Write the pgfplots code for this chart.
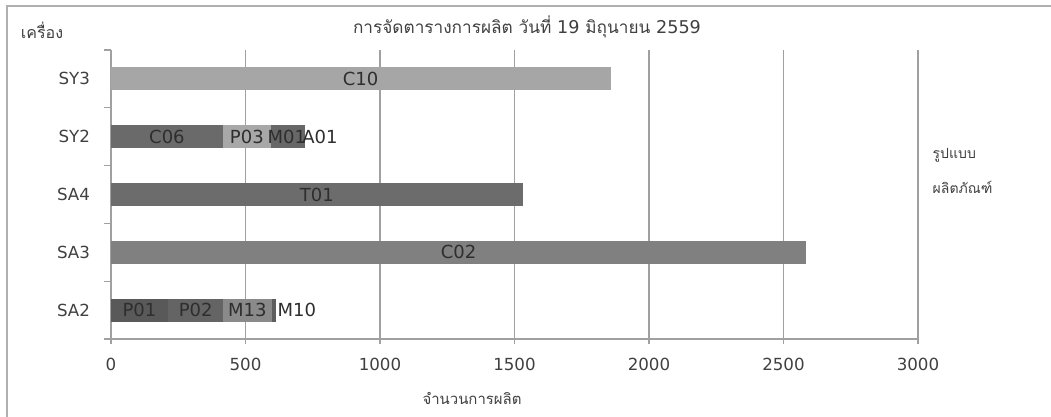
\documentclass[border=0pt]{standalone}
\usepackage{pgfplots}
\pgfplotsset{compat=1.18}
\usepackage{pgfplotstable}
\usepackage{fontspec}
\setmainfont{DejaVu Sans}
\newfontfamily\thaifont[Script=Thai]{Loma}

\definecolor{cP01}{HTML}{595959}
\definecolor{cP02}{HTML}{646464}
\definecolor{cM13}{HTML}{8A8A8A}
\definecolor{cM10}{HTML}{5E5E5E}
\definecolor{cC02}{HTML}{808080}
\definecolor{cT01}{HTML}{6C6C6C}
\definecolor{cC06}{HTML}{6A6A6A}
\definecolor{cP03}{HTML}{A8A8A8}
\definecolor{cM01}{HTML}{676767}
\definecolor{cA01}{HTML}{676767}
\definecolor{cC10}{HTML}{A6A6A6}
\definecolor{gridc}{HTML}{A0A0A0}
\definecolor{framec}{HTML}{B0B0B0}

\pgfplotstableread{
y P01 C02 T01 C06 C10 P02 P03 M13 M01 M10 A01
0 213 0 0 0 0 204 0 180 0 18 0
1 0 2585 0 0 0 0 0 0 0 0 0
2 0 0 1530 0 0 0 0 0 0 0 0
3 0 0 0 417 0 0 177 0 120 0 8
4 0 0 0 0 1857 0 0 0 0 0 0
}\bars

\pgfplotstableread{
x y label
106 0 P01
315 0 P02
507 0 M13
691 0 M10
1292 1 C02
765 2 T01
208 3 C06
505 3 P03
654 3 M01
777 3 A01
928 4 C10
}\labels

\begin{document}
\begin{tikzpicture}
\useasboundingbox (0,0) rectangle (788.25pt,-312.75pt);
\draw[framec, line width=1.5pt] (5.25pt,-320pt) -- (5.25pt,-4.5pt) -- (800pt,-4.5pt);
\begin{axis}[
  at={(83.25pt,-254.25pt)}, anchor=south west,
  scale only axis, width=605.25pt, height=216.75pt,
  xmin=0, xmax=3000, ymin=-0.5, ymax=4.5,
  xtick={0,500,...,3000},
  ytick={0,...,4}, yticklabels={SA2,SA3,SA4,SY2,SY3},
  minor ytick={-0.5,0.5,...,4.5},
  axis x line*=bottom, axis y line*=left,
  axis line style={draw=gridc, line width=0.9pt},
  xmajorgrids, major grid style={draw=gridc, line width=0.8pt},
  tick align=outside, major tick length=4pt, minor tick length=5.25pt,
  major y tick style={draw=none},
  tick style={draw=gridc, line width=0.8pt},
  bar width=17.25pt,
  tick label style={font=\fontsize{12.5}{14}\selectfont, text=black!75},
  x tick label style={yshift=-6.5pt},
  y tick label style={xshift=-8.25pt},
  /pgf/number format/assume math mode=true,
  scaled x ticks=false, x tick label style={/pgf/number format/1000 sep={}},
  clip=false,
]
\addplot[xbar stacked, fill=cP01, draw=none] table[x=P01,y=y]{\bars};
\addplot[xbar stacked, fill=cC02, draw=none] table[x=C02,y=y]{\bars};
\addplot[xbar stacked, fill=cT01, draw=none] table[x=T01,y=y]{\bars};
\addplot[xbar stacked, fill=cC06, draw=none] table[x=C06,y=y]{\bars};
\addplot[xbar stacked, fill=cC10, draw=none] table[x=C10,y=y]{\bars};
\addplot[xbar stacked, fill=cP02, draw=none] table[x=P02,y=y]{\bars};
\addplot[xbar stacked, fill=cP03, draw=none] table[x=P03,y=y]{\bars};
\addplot[xbar stacked, fill=cM13, draw=none] table[x=M13,y=y]{\bars};
\addplot[xbar stacked, fill=cM01, draw=none] table[x=M01,y=y]{\bars};
\addplot[xbar stacked, fill=cM10, draw=none] table[x=M10,y=y]{\bars};
\addplot[xbar stacked, fill=cA01, draw=none] table[x=A01,y=y]{\bars};
\addplot[stack plots=false, only marks, mark=none,
  nodes near coords, point meta=explicit symbolic,
  every node near coord/.style={anchor=center, inner sep=0pt, font=\fontsize{13.5}{15}\selectfont, text=black!82}]
  table[x=x,y=y,meta=label]{\labels};
\end{axis}
\node[text=black!75] at (395.25pt,-20.25pt) {\thaifont\fontsize{12.9}{14}\selectfont การจัดตารางการผลิต วันที่ {\rmfamily\fontsize{13.2}{14}\selectfont 19} มิถุนายน {\rmfamily\fontsize{13.2}{14}\selectfont 2559}};
\node[text=black!75, font=\thaifont\fontsize{12}{14}\selectfont] at (31.5pt,-23pt) {เครื่อง};
\node[text=black!75, font=\thaifont\fontsize{10.5}{12}\selectfont, anchor=west] at (696pt,-116.25pt) {รูปแบบ};
\node[text=black!75, font=\thaifont\fontsize{10.5}{12}\selectfont, anchor=west] at (696pt,-140.25pt) {ผลิตภัณฑ์};
\node[text=black!75, font=\thaifont\fontsize{11.2}{13}\selectfont] at (354pt,-298.5pt) {จำนวนการผลิต};
\end{tikzpicture}
\end{document}
